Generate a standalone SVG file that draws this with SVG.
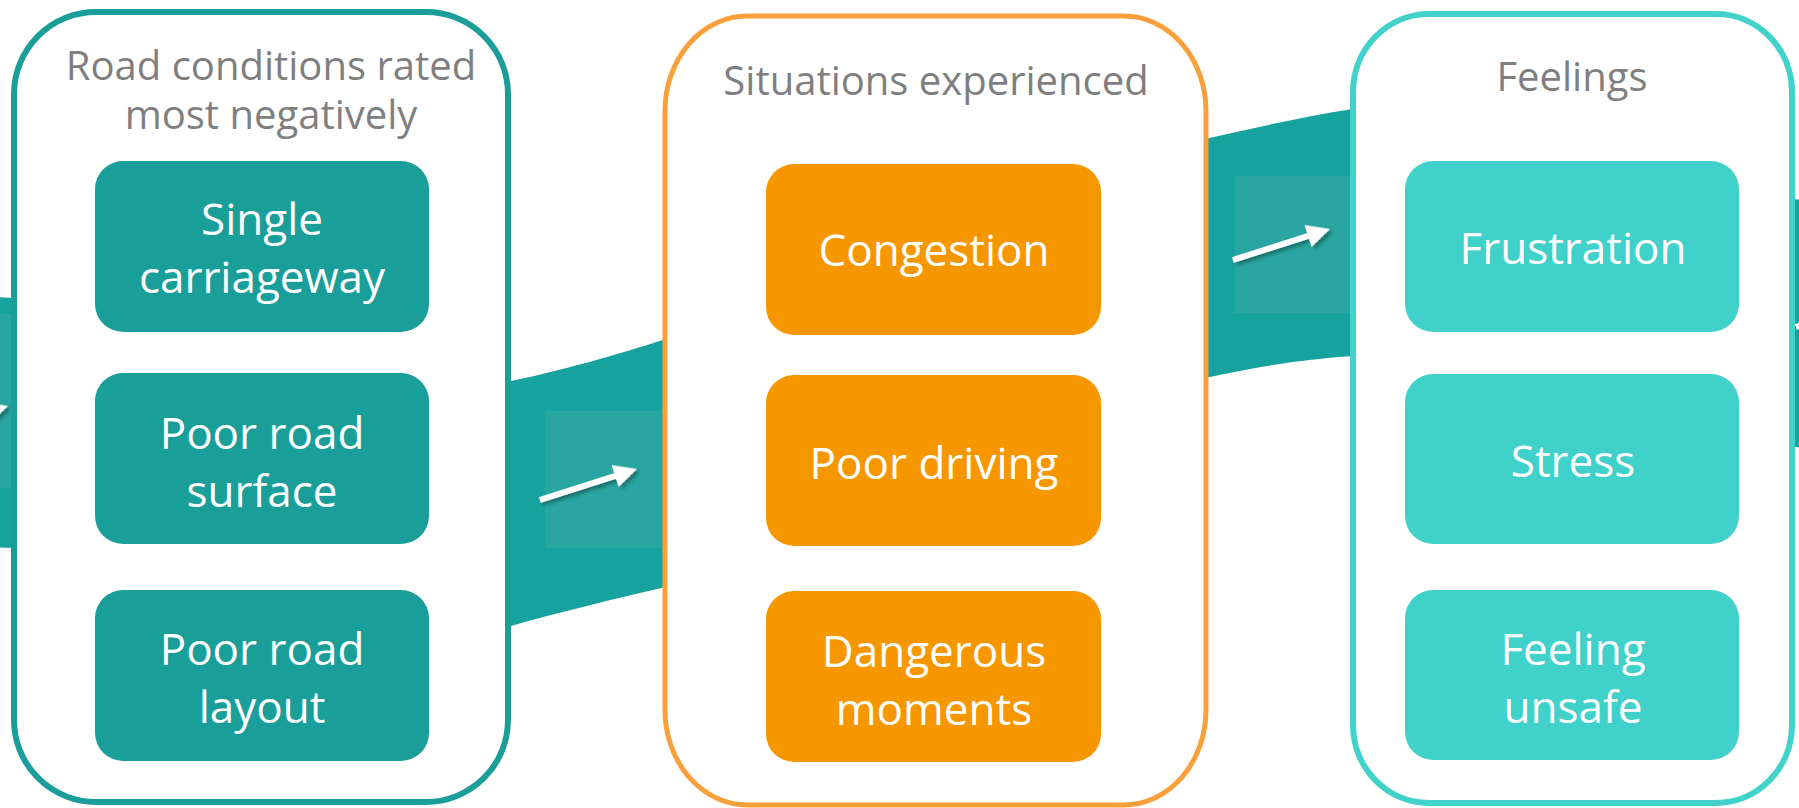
<svg xmlns="http://www.w3.org/2000/svg" width="1799" height="808" viewBox="0 0 1799 808">
  <defs>
    <style>
      .title { font-family: "Open Sans", "Noto Sans", sans-serif; font-size: 40px; fill: #7f7f7f; text-anchor: middle; }
      .lbl { font-family: "Open Sans", "Noto Sans", sans-serif; font-size: 44px; fill: #ffffff; text-anchor: middle; }
      .cont { fill: #ffffff; }
      .c1 { stroke: #1b9e9a; stroke-width: 6; }
      .c2 { stroke: #f9a03a; stroke-width: 5; }
      .c3 { stroke: #40d2cb; stroke-width: 6; }
      .b1 { fill: #199e99; }
      .b2 { fill: #f79700; }
      .b3 { fill: #40d1cb; }
      .band { fill: #16a29e; }
      .sq { fill: #29a6a1; }
      .arrow { fill: #ffffff; filter: url(#shadow); }
    </style>
    <filter id="shadow" x="-30%" y="-60%" width="160%" height="220%">
      <feDropShadow dx="2" dy="3" stdDeviation="2" flood-color="#000000" flood-opacity="0.4"/>
    </filter>
    <polygon id="arr" points="-102,-3 -23,-3 -23,-11.5 0,0 -23,11.5 -23,3 -102,3"/>
  </defs>

  <g id="connectors">
    <path class="band" d="M -20 296 L 14 298 L 511 381 C 560 371, 620 354, 666 339 L 1205 139 C 1255 128, 1305 116, 1353 109 L 1790 199 L 1820 201 L 1820 448 L 1790 447 L 1353 356 C 1305 359, 1255 367, 1205 378 L 666 587 C 610 600, 560 612, 511 626 L 14 548 L -20 547 Z"/>
    <rect class="sq" x="-110" y="314" width="124" height="174"/>
    <rect class="sq" x="545" y="411" width="120" height="137"/>
    <rect class="sq" x="1235" y="176" width="118" height="137"/>
    <use href="#arr" class="arrow" transform="translate(8,406) rotate(-17.7)"/>
    <use href="#arr" class="arrow" transform="translate(637,469) rotate(-17.7)"/>
    <use href="#arr" class="arrow" transform="translate(1330,229) rotate(-17.7)"/>
    <use href="#arr" class="arrow" transform="translate(1893,296) rotate(-17.7)"/>
  </g>

  <g id="group-road-conditions">
    <rect class="cont c1" x="14" y="12" width="494" height="790" rx="82" ry="82"/>
    <text class="title" x="271" y="80">Road conditions rated<tspan x="271" dy="49">most negatively</tspan></text>
  </g>
  <g id="node-single-carriageway">
    <rect class="b1" x="95" y="161" width="334" height="171" rx="28"/>
    <text class="lbl" x="262" y="235">Single<tspan x="262" dy="58">carriageway</tspan></text>
  </g>
  <g id="node-poor-road-surface">
    <rect class="b1" x="95" y="373" width="334" height="171" rx="28"/>
    <text class="lbl" x="262" y="449">Poor road<tspan x="262" dy="58">surface</tspan></text>
  </g>
  <g id="node-poor-road-layout">
    <rect class="b1" x="95" y="590" width="334" height="171" rx="28"/>
    <text class="lbl" x="262" y="665">Poor road<tspan x="262" dy="58">layout</tspan></text>
  </g>

  <g id="group-situations">
    <rect class="cont c2" x="665" y="16" width="541" height="789" rx="82" ry="95"/>
    <text class="title" x="936" y="95">Situations experienced</text>
  </g>
  <g id="node-congestion">
    <rect class="b2" x="766" y="164" width="335" height="171" rx="28"/>
    <text class="lbl" x="934" y="266">Congestion</text>
  </g>
  <g id="node-poor-driving">
    <rect class="b2" x="766" y="375" width="335" height="171" rx="28"/>
    <text class="lbl" x="934" y="479">Poor driving</text>
  </g>
  <g id="node-dangerous-moments">
    <rect class="b2" x="766" y="591" width="335" height="171" rx="28"/>
    <text class="lbl" x="934" y="667">Dangerous<tspan x="934" dy="58">moments</tspan></text>
  </g>

  <g id="group-feelings">
    <rect class="cont c3" x="1353" y="14" width="439" height="789" rx="76" ry="78"/>
    <text class="title" x="1572" y="91">Feelings</text>
  </g>
  <g id="node-frustration">
    <rect class="b3" x="1405" y="161" width="334" height="171" rx="28"/>
    <text class="lbl" x="1573" y="264">Frustration</text>
  </g>
  <g id="node-stress">
    <rect class="b3" x="1405" y="374" width="334" height="170" rx="28"/>
    <text class="lbl" x="1573" y="477">Stress</text>
  </g>
  <g id="node-feeling-unsafe">
    <rect class="b3" x="1405" y="590" width="334" height="170" rx="28"/>
    <text class="lbl" x="1573" y="665">Feeling<tspan x="1573" dy="58">unsafe</tspan></text>
  </g>
</svg>
